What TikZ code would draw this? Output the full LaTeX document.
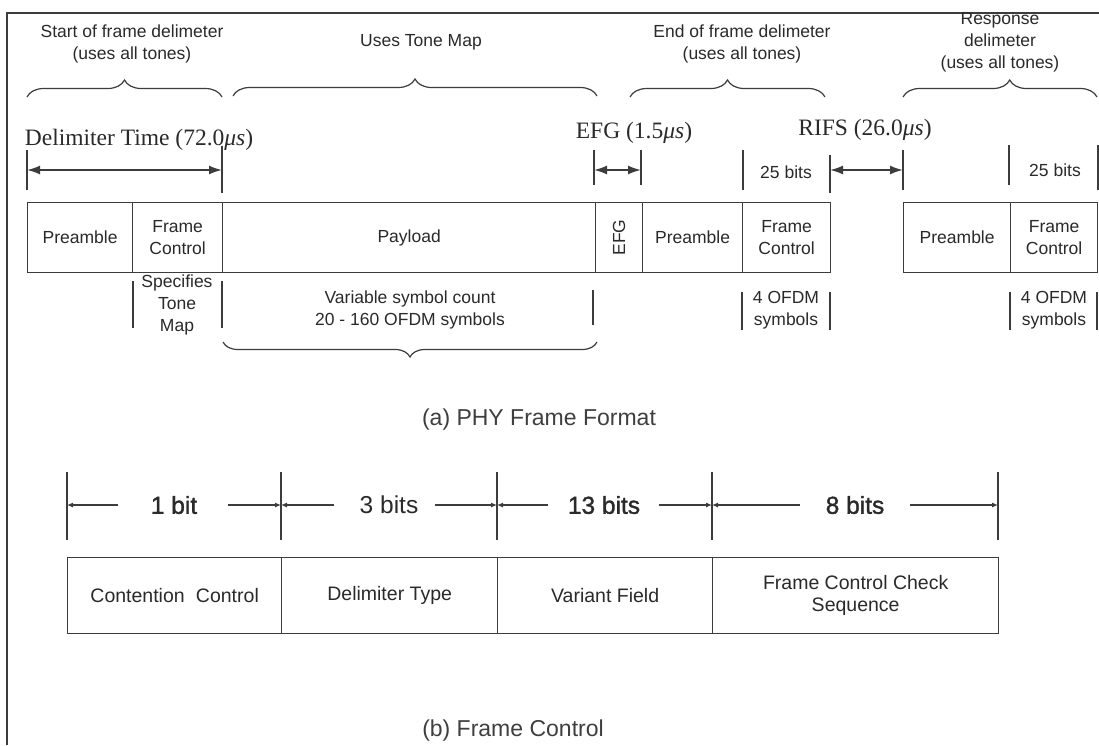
\documentclass[tikz,border=0pt]{standalone}
\usepackage{fontspec}
\setmainfont{Liberation Serif}
\setsansfont{Liberation Sans}
\newfontfamily\semib[FakeBold=1.4]{Liberation Sans}
\usetikzlibrary{arrows.meta,decorations.pathreplacing}
\definecolor{ink}{HTML}{2A2A2A}
\definecolor{rule}{HTML}{3C3C3C}
\tikzset{
 small/.style={font=\sffamily\fontsize{17.5}{22}\selectfont, text=ink, align=center, inner sep=0pt},
 cell/.style={draw=rule, line width=1.3pt, anchor=north west, inner sep=0pt, font=\sffamily\fontsize{17.5}{22}\selectfont, text=ink, align=center},
 fcell/.style={cell, font=\sffamily\fontsize{19.5}{22}\selectfont},
 timelbl/.style={font=\fontsize{23.5}{28}\selectfont, text=ink, inner sep=0pt},
 bitlbl/.style={font=\semib\fontsize{24.5}{28}\selectfont, text=ink, inner sep=0pt},
 caption/.style={font=\sffamily\fontsize{23}{28}\selectfont, text=ink!90, inner sep=0pt},
 tick/.style={draw=rule, line width=1.4pt},
 dimtop/.style={draw=rule, line width=1.8pt, {Latex[length=13pt,width=9pt]}-{Latex[length=13pt,width=9pt]}},
 dimbot/.style={draw=rule, line width=1.1pt, -{Latex[length=6pt,width=5pt]}},
 brc/.style={draw=rule, line width=1.2pt, decorate, decoration={brace, amplitude=17pt}},
 sep/.style={draw=rule, line width=1.2pt},
}
\begin{document}
\begin{tikzpicture}[x=1pt,y=-1pt]
\useasboundingbox[fill=white] (0,0) rectangle (1099,745);
% outer frame
\draw[rule, line width=1.6pt] (1099,13) -- (7,13) -- (7,745);

% top descriptive texts
\node[small] (sofd) at (132,44) {Start of frame delimeter\\(uses all tones)};
\node[small] (utm) at (421,42) {Uses Tone Map};
\node[small] (eofd) at (742,44) {End of frame delimeter\\(uses all tones)};
\node[small] (resp) at (1000,42) {Response\\delimeter\\(uses all tones)};

% braces
\draw[brc] (27,97) -- (222,97);
\draw[brc] (233,96) -- (597,96);
\draw[brc] (630,97) -- (825,97);
\draw[brc, decoration={brace, amplitude=17pt, aspect=0.55}] (903,97) -- (1097,97);

% time labels
\node[timelbl] (dtime) at (139,140) {Delimiter Time (72.0\textit{μs})};
\node[timelbl] (efgl) at (634,133) {EFG (1.5\textit{μs})};
\node[timelbl] (rifs) at (865,130) {RIFS (26.0\textit{μs})};

% ticks top
\draw[tick] (27,150) -- (27,190);
\draw[tick] (222,146) -- (222,193);
\draw[tick] (594,150) -- (594,185);
\draw[tick] (641,150) -- (641,185);
\draw[tick] (743,150) -- (743,190);
\draw[tick] (830,155) -- (830,193);
\draw[tick] (903,150) -- (903,190);
\draw[tick] (1009,145) -- (1009,185);
\draw[tick] (1098,145) -- (1098,190);

% dimension arrows top
\coordinate (d1a) at (27,170);
\coordinate (d1b) at (222,170);
\coordinate (d2a) at (594,170);
\coordinate (d2b) at (641,170);
\coordinate (d3a) at (830,170);
\coordinate (d3b) at (903,170);
\draw[dimtop] (d1a) -- (d1b);
\draw[dimtop] (d2a) -- (d2b);
\draw[dimtop] (d3a) -- (d3b);

\node[small] (b25a) at (786,172) {25 bits};
\node[small] (b25b) at (1055,170) {25 bits};

% frame cells
\node[cell, minimum width=105pt, minimum height=70pt] (pre1) at (27,202) {Preamble};
\node[cell, minimum width=90pt, minimum height=70pt] (fc1) at (132,202) {Frame\\Control};
\node[cell, minimum width=373pt, minimum height=70pt] (pay) at (222,202) {Payload};
\node[cell, minimum width=47pt, minimum height=70pt] (efg) at (595,202) {};
\node[small, rotate=90] (efgt) at (efg.center) {EFG};
\node[cell, minimum width=100pt, minimum height=70pt] (pre2) at (642,202) {Preamble};
\node[cell, minimum width=88pt, minimum height=70pt] (fc2) at (742,202) {Frame\\Control};
\node[cell, minimum width=107pt, minimum height=70pt] (pre3) at (903,202) {Preamble};
\node[cell, minimum width=87pt, minimum height=70pt] (fc3) at (1010,202) {Frame\\Control};

% below-row notes
\node[small] (spec) at (177,305) {Specifies\\Tone\\Map};
\node[small] (var) at (410,310) {Variable symbol count\\20 - 160 OFDM symbols};
\node[small] (ofdm2) at (786,310) {4 OFDM\\symbols};
\node[small] (ofdm3) at (1054,310) {4 OFDM\\symbols};
\draw[sep] (133,281) -- (133,328);
\draw[sep] (222,281) -- (222,328);
\draw[sep] (593,290) -- (593,325);
\draw[sep] (742,292) -- (742,330);
\draw[sep] (830,292) -- (830,330);
\draw[sep] (1010,292) -- (1010,330);
\draw[sep] (1097,292) -- (1097,330);
\draw[brc, decoration={brace, amplitude=15pt}] (597,342) -- (223,342);

\node[caption] (capa) at (539,420) {(a) PHY Frame Format};

% frame control section
\draw[tick] (67,472) -- (67,540);
\draw[tick] (281,472) -- (281,540);
\draw[tick] (497,472) -- (497,540);
\draw[tick] (712,472) -- (712,540);
\draw[tick] (998,472) -- (998,540);
\coordinate (t1) at (67,505);
\coordinate (t2) at (281,505);
\coordinate (t3) at (497,505);
\coordinate (t4) at (712,505);
\coordinate (t5) at (998,505);
\node[bitlbl] (l1) at (174,505) {1 bit};
\node[font=\sffamily\fontsize{24.5}{28}\selectfont, text=ink, inner sep=0pt] (l2) at (389,505) {3 bits};
\node[bitlbl] (l3) at (604,505) {13 bits};
\node[bitlbl] (l4) at (855,505) {8 bits};
\coordinate (a1) at (118,505);
\coordinate (a2) at (228,505);
\coordinate (a3) at (334,505);
\coordinate (a4) at (435,505);
\coordinate (a5) at (548,505);
\coordinate (a6) at (659,505);
\coordinate (a7) at (800,505);
\coordinate (a8) at (910,505);
\draw[dimbot] (a1) -- (t1);
\draw[dimbot] (a2) -- (t2);
\draw[dimbot] (a3) -- (t2);
\draw[dimbot] (a4) -- (t3);
\draw[dimbot] (a5) -- (t3);
\draw[dimbot] (a6) -- (t4);
\draw[dimbot] (a7) -- (t4);
\draw[dimbot] (a8) -- (t5);

\node[fcell, minimum width=214pt, minimum height=76pt] (cc) at (67,557) {Contention\hspace{0.3em} Control};
\node[fcell, minimum width=216pt, minimum height=76pt] (dtype) at (281,557) {Delimiter Type};
\node[fcell, minimum width=215pt, minimum height=76pt] (vf) at (497,557) {Variant Field};
\node[fcell, minimum width=286pt, minimum height=76pt] (fccs) at (712,557) {Frame Control Check\\Sequence};

\node[caption] (capb) at (513,731) {(b) Frame Control};
\end{tikzpicture}
\end{document}
